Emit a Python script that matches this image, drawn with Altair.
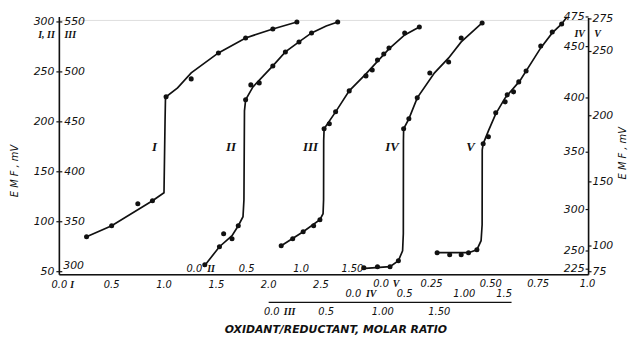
import altair as alt
import pandas as pd

# Common frame: x in curve-I molar-ratio units (bottom axis I), y in mV on the left (I, II) axis
I_pts_x = [0.26, 0.50, 0.75, 0.89, 1.02, 1.26, 1.52, 1.78, 2.04, 2.27]
I_pts_y = [85, 96, 118, 121, 225, 243, 269, 284, 293, 300]
I_line_x = [0.26, 0.50, 0.89, 1.00, 1.01, 1.014, 1.02, 1.13, 1.26, 1.52, 1.78, 2.04, 2.27]
I_line_y = [85, 96, 121, 129, 200, 223, 225, 234, 249, 269, 284, 293, 300]

II_pts_x = [1.39, 1.53, 1.57, 1.65, 1.71, 1.78, 1.83, 1.91, 2.04, 2.16, 2.29, 2.41, 2.66]
II_pts_y = [57, 75, 88, 83, 96, 222, 237, 239, 256, 270, 280, 289, 300]
II_line_x = [1.38, 1.53, 1.65, 1.71, 1.755, 1.764, 1.769, 1.78, 1.85, 2.04, 2.16, 2.29, 2.41, 2.55, 2.66]
II_line_y = [55, 75, 86, 96, 105, 122, 211, 222, 235, 256, 270, 280, 289, 296, 300]

III_pts_x = [2.12, 2.23, 2.33, 2.43, 2.49, 2.53, 2.58, 2.64, 2.77, 2.93, 2.99, 3.04, 3.10, 3.15, 3.30, 3.44]
III_pts_y = [76, 83, 90, 96, 102, 193, 198, 210, 231, 246, 252, 262, 268, 274, 289, 295]
III_line_x = [2.12, 2.33, 2.49, 2.52, 2.525, 2.526, 2.53, 2.64, 2.77, 2.93, 3.15, 3.30, 3.44]
III_line_y = [76, 90, 102, 108, 122, 181, 193, 210, 231, 248, 273, 287, 295]

IV_pts_x = [2.91, 3.04, 3.16, 3.24, 3.29, 3.34, 3.42, 3.54, 3.72, 3.84, 4.04]
IV_pts_y = [54, 55, 55, 61, 193, 203, 224, 249, 260, 284, 299]
IV_line_x = [2.89, 3.16, 3.24, 3.28, 3.287, 3.288, 3.29, 3.34, 3.42, 3.585, 3.72, 3.84, 4.04]
IV_line_y = [53, 55, 61, 71, 88, 181, 193, 203, 224, 249, 264, 280, 299]

V_pts_x = [3.61, 3.73, 3.84, 3.91, 3.99, 4.05, 4.10, 4.17, 4.26, 4.28, 4.34, 4.39, 4.46, 4.60, 4.71, 4.80]
V_pts_y = [69, 67, 67, 69, 72, 178, 185, 209, 220, 227, 230, 240, 251, 276, 290, 298]
V_line_x = [3.61, 3.91, 3.99, 4.03, 4.040, 4.041, 4.05, 4.10, 4.17, 4.26, 4.40, 4.60, 4.71, 4.80, 4.85]
V_line_y = [69, 69, 72, 81, 97, 172, 178, 191, 208, 224, 241, 274, 289, 298, 305]

curve_names = ["I", "II", "III", "IV", "V"]
curve_label_x = [0.91, 1.64, 2.40, 3.18, 3.93]
curve_label_y = [175, 175, 175, 175, 175]

# Axis tick labels
left_ticks = [50, 100, 150, 200, 250, 300]          # I, II (mV)
iii_ticks = [300, 350, 400, 450, 500, 550]          # III (mV), offset 250 from left scale
iv_labels = ["475", "450", "400", "350", "300", "250", "225"]
iv_at = [305, 275.3, 223.9, 169.6, 112.2, 70.7, 52.5]
v_labels = ["275", "250", "200", "150", "100", "75"]
v_at = [303, 270.4, 206.1, 139.9, 75.7, 50]
i_ticks = [0.0, 0.5, 1.0, 1.5, 2.0, 2.5]
ii_labels = ["0.0", "0.5", "1.0", "1.50"]
ii_at = [1.29, 1.79, 2.31, 2.80]
iii_labels = ["0.0", "0.5", "1.00", "1.50"]
iii_at = [2.03, 2.55, 3.09, 3.63]
iv_x_labels = ["0.0", "0.5", "1.00", "1.5"]
iv_x_at = [2.81, 3.30, 3.87, 4.25]
v_x_labels = ["0.0", "0.25", "0.50", "0.75", "1.0"]
v_x_at = [3.075, 3.557, 4.123, 4.575, 5.047]

W, H = 536, 258
INK = "#111111"
FONT = "DejaVu Sans"
xs = alt.Scale(domain=[0, 5.057], nice=False, zero=False)
ys = alt.Scale(domain=[47, 302], nice=False, zero=False)


def X(f="x"):
    return alt.X(f"{f}:Q", scale=xs, axis=None)


def Y(f="y"):
    return alt.Y(f"{f}:Q", scale=ys, axis=None)


lines, pts = [], []
for name, lx, ly, px, py in [
    ("I", I_line_x, I_line_y, I_pts_x, I_pts_y),
    ("II", II_line_x, II_line_y, II_pts_x, II_pts_y),
    ("III", III_line_x, III_line_y, III_pts_x, III_pts_y),
    ("IV", IV_line_x, IV_line_y, IV_pts_x, IV_pts_y),
    ("V", V_line_x, V_line_y, V_pts_x, V_pts_y),
]:
    lines.append(pd.DataFrame({"x": lx, "y": ly, "curve": name, "o": range(len(lx))}))
    pts.append(pd.DataFrame({"x": px, "y": py, "curve": name}))
lines = pd.concat(lines)
pts = pd.concat(pts)

line_layer = alt.Chart(lines).mark_line(color=INK, strokeWidth=1.7, clip=False).encode(
    x=X(), y=Y(), detail="curve:N", order="o:Q")
pt_layer = alt.Chart(pts).mark_circle(color=INK, size=26, opacity=1).encode(x=X(), y=Y())

roman = dict(font="Liberation Serif", fontStyle="italic", fontWeight="bold", color=INK)
numf = dict(font=FONT, fontStyle="italic", color=INK)

curve_lab = alt.Chart(pd.DataFrame({"x": curve_label_x, "y": curve_label_y, "t": curve_names})).mark_text(
    fontSize=13, **roman).encode(x=X(), y=Y(), text="t:N")

one = pd.DataFrame({"a": [0]})
left_axis = alt.Chart(one).mark_rule(color=INK, strokeWidth=1.6).encode(
    x=alt.value(0), y=alt.value(-3), y2=alt.value(H))
right_axis = alt.Chart(one).mark_rule(color=INK, strokeWidth=1.6).encode(
    x=alt.value(W), y=alt.value(-2), y2=alt.value(H))
bottom_axis = alt.Chart(one).mark_rule(color=INK, strokeWidth=1.6).encode(
    x=alt.value(0), x2=alt.value(W), y=alt.value(H))
sep_line = alt.Chart(one).mark_rule(color=INK, strokeWidth=1.3).encode(
    x=alt.value(212), x2=alt.value(458), y=alt.value(286))

ldf = pd.DataFrame({"v": left_ticks, "t": [str(v) for v in left_ticks]})
left_tk = alt.Chart(ldf).mark_rule(color=INK, strokeWidth=1.2).encode(
    x=alt.value(-3), x2=alt.value(3), y=Y("v"))
left_lab = alt.Chart(ldf).mark_text(align="right", baseline="middle", fontSize=11, **numf).encode(
    x=alt.value(-5), y=Y("v"), text="t:N")

iiidf = pd.DataFrame({"v": iii_ticks, "t": [str(v) for v in iii_ticks]})
iii_lab = alt.Chart(iiidf).transform_filter("datum.v > 300").transform_calculate(
    p="datum.v - 250").mark_text(align="left", baseline="middle", fontSize=11, **numf).encode(
    x=alt.value(5), y=Y("p"), text="t:N")
iii_lab0 = alt.Chart(iiidf).transform_filter("datum.v == 300").transform_calculate(
    p="datum.v - 250").mark_text(align="left", baseline="middle", dy=-6, fontSize=11, **numf).encode(
    x=alt.value(4), y=Y("p"), text="t:N")

ivdf = pd.DataFrame({"at": iv_at, "t": iv_labels})
iv_tk = alt.Chart(ivdf).mark_rule(color=INK, strokeWidth=1.2).encode(
    x=alt.value(W - 3), x2=alt.value(W), y=Y("at"))
iv_lab = alt.Chart(ivdf).mark_text(align="right", baseline="middle", fontSize=11, **numf).encode(
    x=alt.value(W - 4), y=Y("at"), text="t:N")
vdf = pd.DataFrame({"at": v_at, "t": v_labels})
v_tk = alt.Chart(vdf).mark_rule(color=INK, strokeWidth=1.2).encode(
    x=alt.value(W), x2=alt.value(W + 3), y=Y("at"))
v_lab = alt.Chart(vdf).mark_text(align="left", baseline="middle", fontSize=11, **numf).encode(
    x=alt.value(W + 4), y=Y("at"), text="t:N")


def xrow(labels, at, ypix):
    df = pd.DataFrame({"x": at, "t": labels})
    return alt.Chart(df).mark_text(baseline="middle", fontSize=10, **numf).encode(
        x=X("x"), y=alt.value(ypix), text="t:N")


i_row = xrow(["%.1f" % v for v in i_ticks], i_ticks, 268)
ii_row = xrow(ii_labels, ii_at, 252)
v_row = xrow(v_x_labels, v_x_at, 267)
iv_row = xrow(iv_x_labels, iv_x_at, 278)
iii_row = xrow(iii_labels, iii_at, 296)


def rmark(label, xval, ypix, dx, size=10):
    df = pd.DataFrame({"x": [xval], "t": [label]})
    return alt.Chart(df).mark_text(baseline="middle", dx=dx, fontSize=size, **roman).encode(
        x=X("x"), y=alt.value(ypix), text="t:N")


ax_romans = [
    rmark("I", i_ticks[0], 268, 13),
    rmark("II", ii_at[0], 252, 17),
    rmark("V", v_x_at[0], 267, 15),
    rmark("IV", iv_x_at[0], 278, 18),
    rmark("III", iii_at[0], 296, 18),
]


def tag(label, xpix, ypix):
    return alt.Chart(pd.DataFrame({"t": [label]})).mark_text(fontSize=10, **roman).encode(
        x=alt.value(xpix), y=alt.value(ypix), text="t:N")


tags = [tag("I, II", -13, 15), tag("III", 11, 15), tag("IV", W - 9, 14), tag("V", W + 9, 14)]

emf_l = alt.Chart(pd.DataFrame({"t": ["E M F ,  mV"]})).mark_text(angle=270, fontSize=10, **numf).encode(
    x=alt.value(-45), y=alt.value(153), text="t:N")
emf_r = alt.Chart(pd.DataFrame({"t": ["E M F ,  mV"]})).mark_text(angle=270, fontSize=10, **numf).encode(
    x=alt.value(W + 35), y=alt.value(135), text="t:N")
title = alt.Chart(pd.DataFrame({"t": ["OXIDANT/REDUCTANT, MOLAR RATIO"]})).mark_text(
    fontSize=11, font=FONT, fontStyle="italic", fontWeight="bold", color=INK).encode(
    x=alt.value(280), y=alt.value(314), text="t:N")

chart = alt.layer(
    left_axis, right_axis, bottom_axis, sep_line,
    left_tk, left_lab, iii_lab, iii_lab0, iv_tk, iv_lab, v_tk, v_lab,
    i_row, ii_row, v_row, iv_row, iii_row, *ax_romans, *tags,
    emf_l, emf_r, title,
    line_layer, pt_layer, curve_lab,
).properties(
    width=W, height=H,
    autosize=alt.AutoSizeParams(type="none"),
    padding={"left": 52, "top": 10, "right": 44, "bottom": 60},
).configure_view(stroke=None).configure(background="white")

chart.save("out.html", embed_options={"renderer": "svg", "actions": False})
